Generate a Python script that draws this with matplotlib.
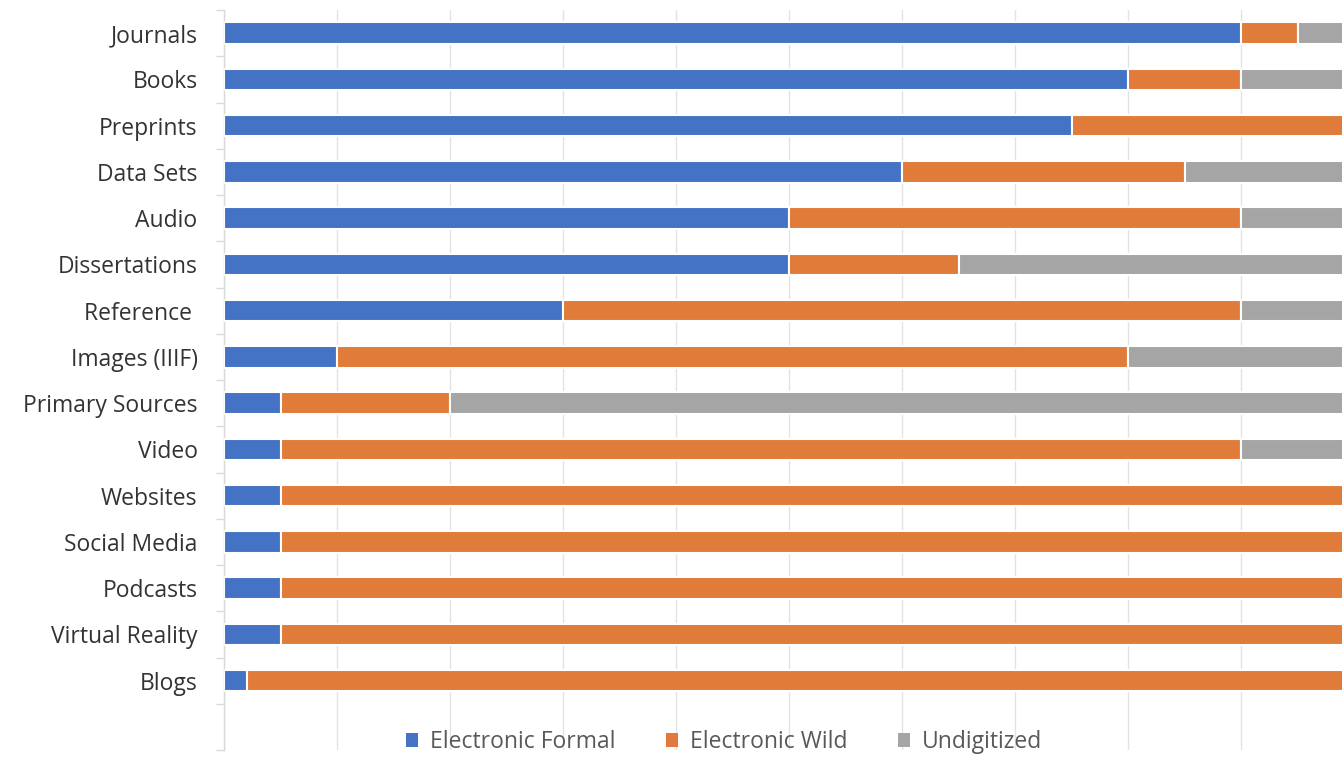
import matplotlib
matplotlib.use("Agg")
import matplotlib.pyplot as plt
import numpy as np
from matplotlib.ticker import MultipleLocator, FixedLocator

categories = ["Journals", "Books", "Preprints", "Data Sets", "Audio", "Dissertations",
              "Reference ", "Images (IIIF)", "Primary Sources", "Video", "Websites",
              "Social Media", "Podcasts", "Virtual Reality", "Blogs"]
formal = [90, 80, 75, 60, 50, 50, 30, 10, 5, 5, 5, 5, 5, 5, 2]
wild = [5, 10, 25, 25, 40, 15, 60, 70, 15, 85, 95, 95, 95, 95, 98]
undig = [5, 10, 0, 15, 10, 35, 10, 20, 80, 10, 0, 0, 0, 0, 0]

series = [("Electronic Formal", formal, "#4472C4"),
          ("Electronic Wild", wild, "#E07B39"),
          ("Undigitized", undig, "#A5A5A5")]

plt.rcParams['font.family'] = ['Open Sans', 'DejaVu Sans']
fig = plt.figure(figsize=(13.42, 7.57), dpi=100)
W, H = 1342, 757
ax = fig.add_axes([224 / W, 7 / H, 1130 / W, 740 / H])

y = np.arange(len(categories))
left = np.zeros(len(categories))
for name, vals, col in series:
    vals = np.array(vals, dtype=float)
    ax.barh(y, vals, left=left, height=0.46, color=col, edgecolor="white",
            linewidth=1.5, label=name, zorder=3)
    left += vals

ax.set_xlim(0, 100)
ax.set_ylim(len(categories) + 0.5, -0.5)
ax.set_yticks(y)
ax.set_yticklabels(categories, fontsize=16.5, color="#333333")
ax.yaxis.set_minor_locator(FixedLocator(np.arange(-0.5, len(categories) + 1, 1)))
ax.tick_params(axis="y", which="major", length=0, pad=19)
ax.tick_params(axis="y", which="minor", length=6, color="#D9D9D9", width=1)
ax.xaxis.set_major_locator(MultipleLocator(10))
ax.tick_params(axis="x", which="both", length=0, labelbottom=False)
ax.grid(axis="x", color="#E3E3E3", linewidth=1, zorder=0)
for s in ["top", "right", "bottom"]:
    ax.spines[s].set_visible(False)
ax.spines["left"].set_color("#D9D9D9")
ax.spines["left"].set_linewidth(1)

leg = fig.legend(loc="center", bbox_to_anchor=(724 / W, 1 - 742 / H), ncol=3, frameon=False,
                 fontsize=16.5, handlelength=0.55, handleheight=0.55, handletextpad=0.5,
                 columnspacing=2.2, labelcolor="#595959")
for h in leg.legend_handles:
    h.set_linewidth(0)

fig.savefig("out.png", dpi=100)
